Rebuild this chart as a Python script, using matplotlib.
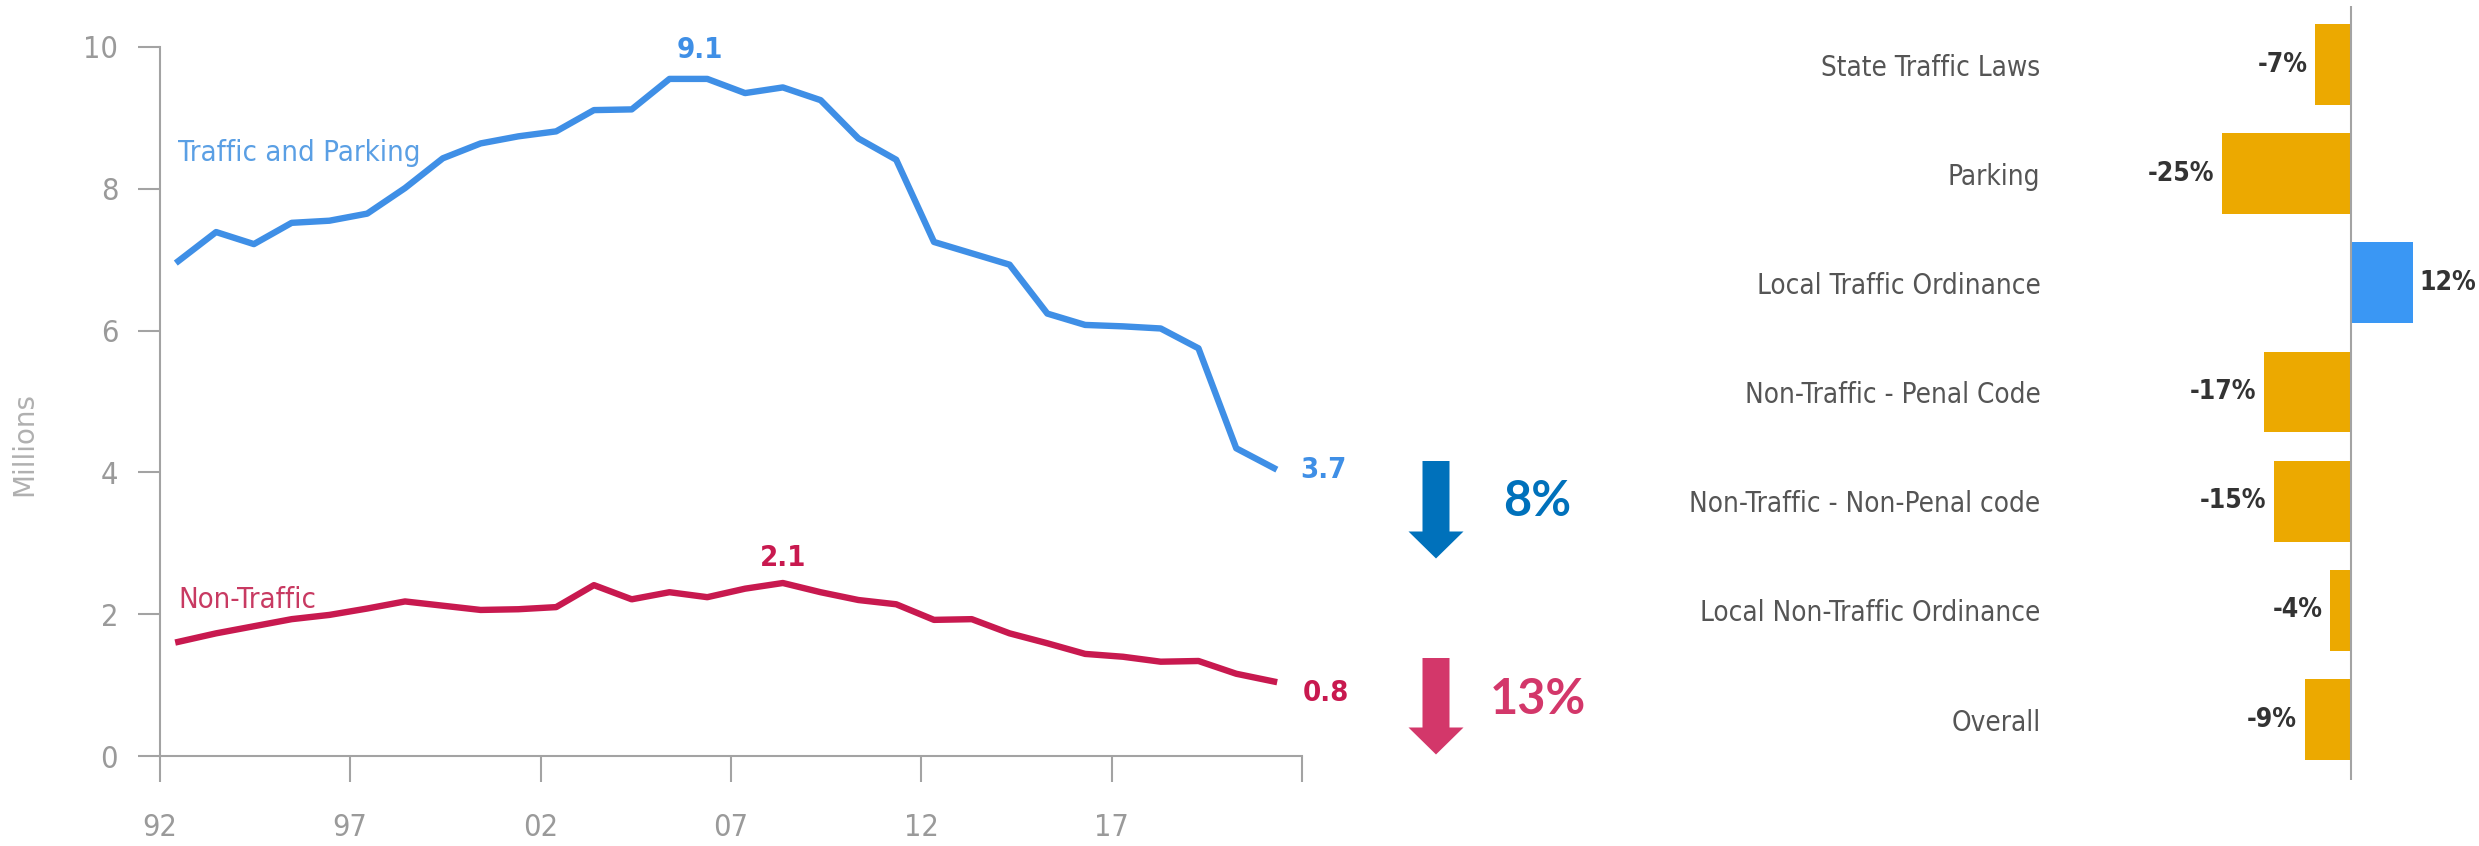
import numpy as np
import matplotlib
matplotlib.use("Agg")
import matplotlib.pyplot as plt
from matplotlib import font_manager


# Data
years = list(range(1992, 2022))
traffic = [6.98, 7.39, 7.22, 7.52, 7.55, 7.65, 8.01, 8.43, 8.64, 8.74,
           8.81, 9.11, 9.12, 9.55, 9.55, 9.35, 9.43, 9.25, 8.71, 8.41,
           7.25, 7.09, 6.93, 6.24, 6.08, 6.06, 6.03, 5.75, 4.34, 4.06]
non_traffic = [1.61, 1.73, 1.83, 1.93, 1.99, 2.08, 2.18, 2.12, 2.06, 2.07,
               2.10, 2.41, 2.21, 2.31, 2.24, 2.36, 2.44, 2.31, 2.20, 2.14,
               1.92, 1.93, 1.73, 1.59, 1.44, 1.40, 1.33, 1.34, 1.16, 1.05]
year_labels = ["92", "97", "02", "07", "12", "17", ""]

categories = ["State Traffic Laws", "Parking", "Local Traffic Ordinance",
              "Non-Traffic - Penal Code", "Non-Traffic - Non-Penal code",
              "Local Non-Traffic Ordinance", "Overall"]
changes = [-7, -25, 12, -17, -15, -4, -9]

traffic_drop = "8%"
non_traffic_drop = "13%"


# Fonts - narrow look if a condensed face is around
fonts = font_manager.fontManager.ttflist
if any("Liberation Sans Narrow" == f.name for f in fonts):
    plt.rcParams["font.family"] = ["Liberation Sans Narrow", "DejaVu Sans"]
    k = 1.05
elif any(f.name == "DejaVu Sans" and "Condensed" in f.fname for f in fonts):
    plt.rcParams["font.family"] = ["DejaVu Sans"]
    plt.rcParams["font.stretch"] = "condensed"
    k = 1.0
else:
    plt.rcParams["font.family"] = ["DejaVu Sans"]
    k = 0.9

grey_axis = "#a3a3a3"
grey_text = "#9a9a9a"
blue = "#3f8fe6"
blue_txt = "#5a9fe4"
red = "#c8194f"
red_txt = "#c83a62"
orange = "#eca900"
bar_blue = "#3a97f4"

W, H = 2479, 846
fig = plt.figure(figsize=(W / 100, H / 100), dpi=100)

# Left line chart
ax = fig.add_axes([159.8 / W, 1 - 756 / H, (1302 - 159.8) / W, (756 - 47) / H])
ax.plot(years, traffic, color=blue, lw=4.6)
ax.plot(years, non_traffic, color=red, lw=4.6)
x0, x1 = 1991.51, 2021.74
ax.set_xlim(x0, x1)
ax.set_ylim(0, 10)
ax.set_xticks(np.linspace(x0, x1, 7), year_labels)
ax.set_yticks([0, 2, 4, 6, 8, 10])
for s in ["top", "right"]:
    ax.spines[s].set_visible(False)
for s in ["left", "bottom"]:
    ax.spines[s].set_color(grey_axis)
    ax.spines[s].set_linewidth(1.5)
ax.tick_params(axis="y", length=16, width=1.5, color=grey_axis, pad=14,
               labelsize=22 * k, labelcolor=grey_text)
ax.tick_params(axis="x", length=19, width=1.5, color=grey_axis, pad=22,
               labelsize=22 * k, labelcolor=grey_text)
ax.set_ylabel("Millions", fontsize=20 * k, color="#b0b0b0", labelpad=0,
              fontstretch="normal")
ax.yaxis.set_label_coords(-(159.8 - 38) / (1302 - 159.8), 0.44)

ax.text(1992, 8.5, "Traffic and Parking", color=blue_txt, fontsize=21 * k,
        va="center", ha="left")
ax.text(2005.8, 9.96, "9.1", color=blue, fontsize=21 * k, weight="bold",
        va="center", ha="center", clip_on=False)
ax.text(2021.7, 4.03, "3.7", color=blue, fontsize=21 * k, weight="bold",
        va="center", ha="left", clip_on=False)
ax.text(1992, 2.2, "Non-Traffic", color=red_txt, fontsize=21 * k,
        va="center", ha="left")
ax.text(2008.0, 2.79, "2.1", color=red, fontsize=21 * k, weight="bold",
        va="center", ha="center")
ax.text(2021.75, 0.89, "0.8", color=red, fontsize=21 * k, weight="bold",
        va="center", ha="left", clip_on=False)

# Right bar chart
bx = fig.add_axes([2150.2 / W, 1 - 780 / H, 329.6 / W, 774 / H])
pos = np.arange(len(categories))
cols = [bar_blue if v > 0 else orange for v in changes]
bx.barh(pos, changes, height=0.74, color=cols)
bx.axvline(0, color=grey_axis, lw=1.5)
bx.set_xlim(-39, 25)
bx.set_ylim(6.554, -0.536)
bx.set_xticks([])
bx.set_yticks(pos, categories)
bx.tick_params(axis="y", length=0, pad=79, labelsize=20 * k, labelcolor="#555555")
for s in bx.spines.values():
    s.set_visible(False)
for i, v in enumerate(changes):
    txt = f"{v}%"
    if v < 0:
        bx.text(v - 1.5, i, txt, ha="right", va="center", fontsize=19 * k,
                weight="bold", color="#333333")
    else:
        bx.text(v + 1.2, i, txt, ha="left", va="center", fontsize=19 * k,
                weight="bold", color="#333333", clip_on=False)

# Arrows between the charts
ov = fig.add_axes([0, 0, 1, 1])
ov.set_xlim(0, W)
ov.set_ylim(H, 0)
ov.axis("off")
ov.patch.set_alpha(0)
ov.arrow(1436, 461, 0, 97.5, width=27, head_width=55, head_length=27,
         length_includes_head=True, color="#0071bb", lw=0)
ov.arrow(1436, 658, 0, 96.5, width=27, head_width=55, head_length=27,
         length_includes_head=True, color="#d3376a", lw=0)
ov.text(1503, 502, traffic_drop, color="#0071bb", fontsize=35,
        family=["Lato", "DejaVu Sans"], weight="bold", fontstretch="normal",
        ha="left", va="center")
ov.text(1490, 699, non_traffic_drop, color="#d3376a", fontsize=35,
        family=["Lato", "DejaVu Sans"], weight="bold", fontstretch="normal",
        ha="left", va="center")

fig.savefig("out.png", dpi=100)
